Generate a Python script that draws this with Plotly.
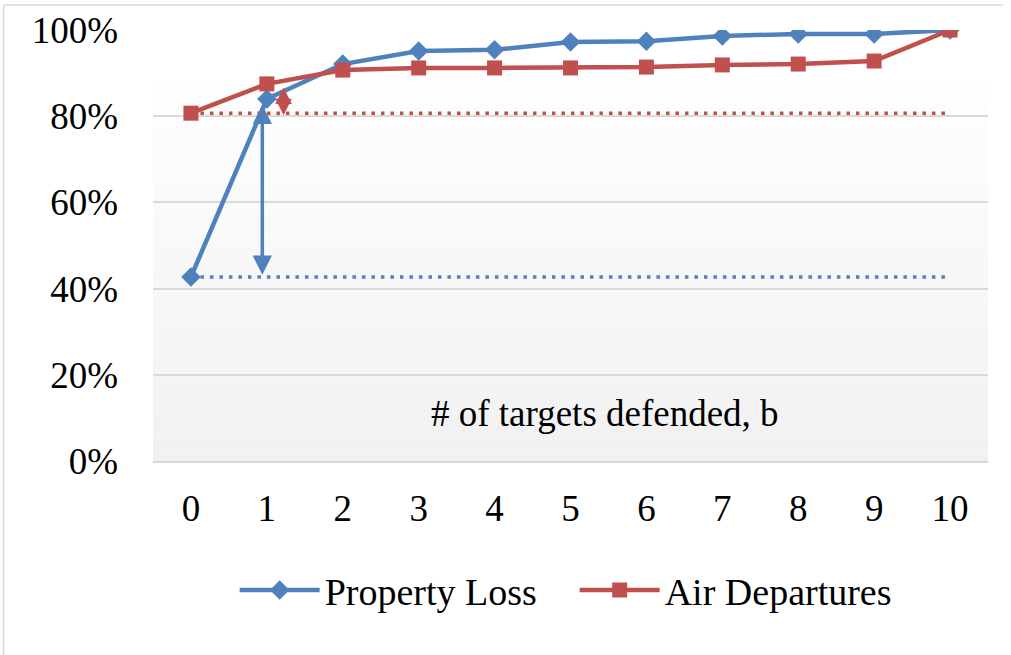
import plotly.graph_objects as go

targets = [0, 1, 2, 3, 4, 5, 6, 7, 8, 9, 10]
property_loss = [42.7, 84.0, 92.1, 95.1, 95.4, 97.2, 97.4, 98.6, 99.1, 99.1, 100.0]
air_departures = [80.7, 87.5, 90.7, 91.2, 91.2, 91.2, 91.4, 91.9, 92.1, 92.8, 100.0]
y_ticks = [0, 20, 40, 60, 80, 100]
y_tick_labels = [f"{v}%" for v in y_ticks]

BLUE = "#4f81bd"
RED = "#c0504d"
FONT = "Liberation Serif"
FS = 37

fig = go.Figure()

# dotted reference lines at b = 0 values
fig.add_trace(go.Scatter(x=[targets[0], targets[-1]], y=[air_departures[0]] * 2, mode="lines",
                         line=dict(color=RED, width=3.5, dash="3.5px,6px"), showlegend=False, hoverinfo="skip"))
fig.add_trace(go.Scatter(x=[targets[0], targets[-1]], y=[property_loss[0]] * 2, mode="lines",
                         line=dict(color=BLUE, width=3.5, dash="3.5px,6px"), showlegend=False, hoverinfo="skip"))

fig.add_trace(go.Scatter(x=targets, y=property_loss, mode="lines+markers", name="Property Loss",
                         line=dict(color=BLUE, width=4.5),
                         marker=dict(symbol="diamond", size=15, color=BLUE)))
fig.add_trace(go.Scatter(x=targets, y=air_departures, mode="lines+markers", name="Air Departures",
                         line=dict(color=RED, width=4.5),
                         marker=dict(symbol="square", size=15, color=RED)))

# gradient plot-area background (style only)
n = 40
top_val = 88.0
for i in range(n):
    y0 = top_val * i / n
    y1 = top_val * (i + 1) / n
    t = i / (n - 1)
    g = int(round(0xf1 + (0xfe - 0xf1) * t))
    fig.add_shape(type="rect", xref="x", yref="y", x0=-0.5, x1=10.5, y0=y0, y1=y1,
                  fillcolor=f"rgb({g},{g},{g})", line=dict(width=0), layer="below")

# chart border (left and top)
fig.add_shape(type="line", xref="paper", yref="paper", x0=-0.179, x1=-0.179, y0=1.058, y1=-0.6,
              line=dict(color="#d9d9d9", width=1.5))
fig.add_shape(type="line", xref="paper", yref="paper", x0=-0.179, x1=1.018, y0=1.058, y1=1.058,
              line=dict(color="#d9d9d9", width=1.5))

# double-headed arrows
fig.add_annotation(x=0.94, y=property_loss[0] + 0.5, ax=0.94, ay=property_loss[1] - 1.0,
                   xref="x", yref="y", axref="x", ayref="y", text="", showarrow=True,
                   arrowhead=2, startarrowhead=2, arrowside="end+start", arrowsize=1.1,
                   startarrowsize=1.1, arrowwidth=3.5, arrowcolor=BLUE)
fig.add_annotation(x=1.22, y=air_departures[0] - 0.5, ax=1.22, ay=air_departures[1] - 0.5,
                   xref="x", yref="y", axref="x", ayref="y", text="", showarrow=True,
                   arrowhead=2, startarrowhead=2, arrowside="end+start", arrowsize=1.1,
                   startarrowsize=1.1, arrowwidth=3.0, arrowcolor=RED)

# axis title placed inside plot
fig.add_annotation(x=5.45, y=11, xref="x", yref="y", text="# of targets defended, b",
                   showarrow=False, font=dict(family=FONT, size=FS, color="#000000"))

fig.update_layout(
    width=1011, height=655,
    margin=dict(l=153, r=23, t=30, b=194),
    paper_bgcolor="white", plot_bgcolor="white",
    font=dict(family=FONT, size=FS, color="#000000"),
    showlegend=True,
    legend=dict(orientation="h", x=0.505, xanchor="center", y=-0.3, yanchor="middle",
                font=dict(family=FONT, size=38), itemwidth=80, entrywidth=245,
                entrywidthmode="pixels", bgcolor="rgba(0,0,0,0)"),
    xaxis=dict(range=[-0.5, 10.5], tickmode="array", tickvals=targets,
               ticktext=[str(t) for t in targets], showgrid=False, zeroline=False,
               showline=True, linecolor="#d9d9d9", linewidth=1.5, ticks="",
               ticklabelstandoff=14, fixedrange=True, automargin=False),
    yaxis=dict(range=[0, 100], tickmode="array", tickvals=y_ticks, ticktext=y_tick_labels,
               showgrid=True, gridcolor="#d9d9d9", gridwidth=1.5, zeroline=False,
               showline=False, ticks="", ticklabelstandoff=34, fixedrange=True, automargin=False),
)

fig.write_html("out.html", config={"displayModeBar": False},
               post_script="document.body.style.margin='0';")
